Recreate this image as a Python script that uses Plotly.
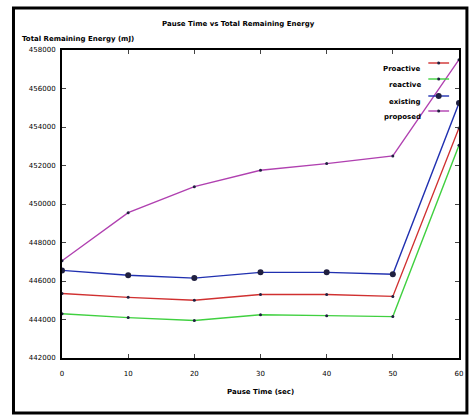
import plotly.graph_objects as go

pause_time = [0, 10, 20, 30, 40, 50, 60]
proactive = [445350, 445150, 445000, 445300, 445300, 445200, 453950]
reactive = [444300, 444100, 443950, 444250, 444200, 444150, 453050]
existing = [446550, 446300, 446150, 446450, 446450, 446350, 455250]
proposed = [447050, 449550, 450900, 451750, 452100, 452500, 457500]

series = [
    ("Proactive", proactive, "#d03030", 3),
    ("reactive", reactive, "#40d040", 3),
    ("existing", existing, "#2030b0", 6),
    ("proposed", proposed, "#b040b0", 3),
]

y_ticks = list(range(442000, 458001, 2000))
y_tick_labels = [str(v) for v in y_ticks]
x_ticks = pause_time

fig = go.Figure()
for name, vals, color, msize in series:
    fig.add_trace(go.Scatter(
        x=pause_time, y=vals, mode="lines+markers", name=name,
        line=dict(color=color, width=1.4),
        marker=dict(color="#202040", size=msize),
        showlegend=False,
    ))

font = dict(family="DejaVu Sans", size=7, color="black")

fig.update_layout(
    width=474, height=416,
    margin=dict(l=62, r=11, t=50, b=58),
    paper_bgcolor="white", plot_bgcolor="white",
    font=font,
    xaxis=dict(range=[0, 60], tickvals=x_ticks, ticks="inside", ticklen=4,
               mirror="ticks", showline=True, linecolor="black", linewidth=2,
               showgrid=False, zeroline=False, tickfont=font, ticklabelstandoff=8),
    yaxis=dict(range=[442000, 458000], tickvals=y_ticks, ticktext=y_tick_labels,
               ticks="inside", ticklen=4,
               mirror="ticks", showline=True, linecolor="black", linewidth=2,
               showgrid=False, zeroline=False, tickfont=font, ticklabelstandoff=3),
)

# titles
fig.add_annotation(text="<b>Pause Time vs Total Remaining Energy</b>", xref="paper", yref="paper",
                   x=0.445, y=(358 - 18) / 308, showarrow=False, font=dict(family="DejaVu Sans", size=7))
fig.add_annotation(text="<b>Total Remaining Energy (mJ)</b>", xref="paper", yref="paper",
                   x=(20 - 62) / 401, y=(358 - 33) / 308, xanchor="left", showarrow=False,
                   font=dict(family="DejaVu Sans", size=7))
fig.add_annotation(text="<b>Pause Time (sec)</b>", xref="paper", yref="paper",
                   x=0.5, y=(358 - 398) / 308, showarrow=False, font=dict(family="DejaVu Sans", size=7))

# custom legend (text left of sample line, like gnuplot)
leg_rows = [63, 79, 96, 111]
for (name, vals, color, msize), ypx in zip(series, leg_rows):
    yp = (358 - ypx) / 308
    fig.add_annotation(text="<b>" + name + "</b>", xref="paper", yref="paper",
                       x=(427 - 62) / 401, y=yp, xanchor="right", showarrow=False,
                       font=dict(family="DejaVu Sans", size=7))
    fig.add_shape(type="line", xref="paper", yref="paper",
                  x0=(432 - 62) / 401, x1=(453 - 62) / 401, y0=yp, y1=yp,
                  line=dict(color=color, width=1.4))
    r = msize / 2 / 401
    ry = msize / 2 / 308
    cx = (442.5 - 62) / 401
    fig.add_shape(type="circle", xref="paper", yref="paper",
                  x0=cx - r, x1=cx + r, y0=yp - ry, y1=yp + ry,
                  fillcolor="#202040", line=dict(width=0))

# outer frame
fig.add_shape(type="rect", xref="paper", yref="paper",
              x0=(13 - 62) / 401, x1=(471 - 62) / 401,
              y0=(358 - 413) / 308, y1=(358 - 8) / 308,
              line=dict(color="black", width=3))

fig.write_html("out.html", config={"displayModeBar": False},
               post_script="document.body.style.margin='0px';document.body.style.padding='0px';")
